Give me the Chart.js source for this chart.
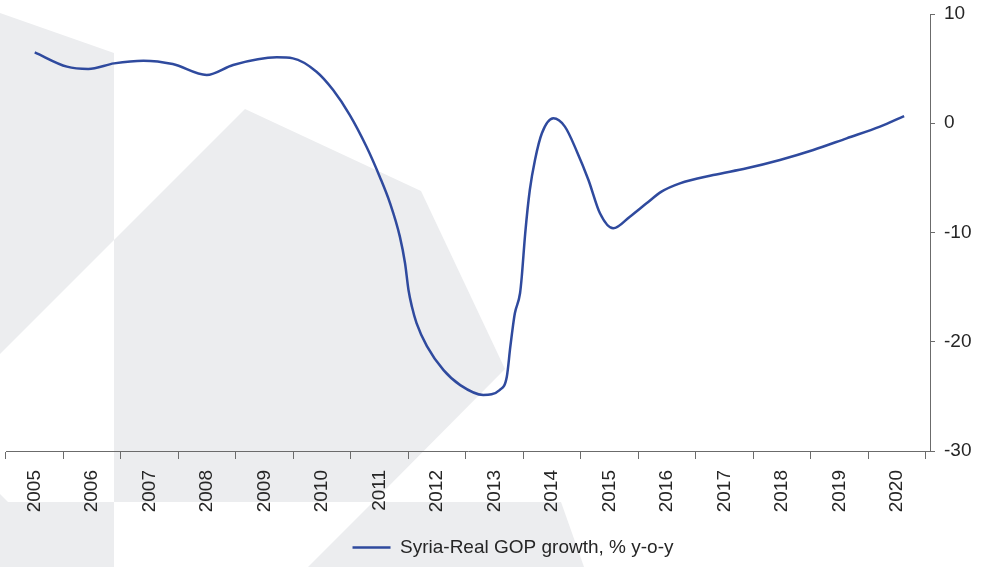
<!DOCTYPE html>
<html>
<head>
<meta charset="utf-8">
<script src="https://cdn.jsdelivr.net/npm/chart.js@4.4.1/dist/chart.umd.min.js"></script>
<style>
  html, body { margin: 0; padding: 0; background: #ffffff; }
  #wrap { position: relative; width: 990px; height: 567px; }
</style>
</head>
<body>
<div id="wrap"><canvas id="c"></canvas></div>
<script>
// ---- data ----
const seriesLabel = 'Syria-Real GOP growth, % y-o-y';
const tickYears = [2005, 2006, 2007, 2008, 2009, 2010, 2011, 2012, 2013, 2014, 2015, 2016, 2017, 2018, 2019, 2020];
const yTicks = [-30, -20, -10, 0, 10];
const years = [
  2005.00, 2005.56, 2005.93, 2006.38, 2006.89, 2007.40, 2007.99, 2008.45, 2009.21, 2009.49,
  2009.90, 2010.19, 2010.48, 2010.77, 2011.00, 2011.18, 2011.35, 2011.44, 2011.50, 2011.56,
  2011.64, 2011.82, 2012.11, 2012.40, 2012.80, 2013.09, 2013.21, 2013.27, 2013.30, 2013.35,
  2013.44, 2013.47, 2013.53, 2013.61, 2013.70, 2013.82, 2014.02, 2014.22, 2014.43, 2014.63,
  2014.83, 2015.06, 2015.35, 2015.64, 2015.90, 2016.22, 2016.80, 2017.38, 2017.96, 2018.54,
  2019.12, 2019.70, 2020.12
];
const growth = [
  6.49, 5.18, 4.97, 5.48, 5.73, 5.42, 4.42, 5.33, 6.03, 5.94,
  4.72, 3.04, 0.75, -2.15, -4.89, -7.33, -10.38, -12.82, -15.26, -16.80,
  -18.30, -20.40, -22.60, -23.97, -24.87, -24.40, -23.20, -20.50, -19.23, -17.40,
  -15.56, -14.05, -10.07, -6.11, -3.36, -0.92, 0.45, -0.31, -2.60, -5.19,
  -8.24, -9.62, -8.55, -7.33, -6.26, -5.50, -4.74, -4.12, -3.36, -2.45,
  -1.38, -0.31, 0.66
];

const FONT = '"Liberation Sans", Arial, Helvetica, sans-serif';
const AXIS = '#6b6b6b';
const TEXT = '#262626';
const LINE = '#2f4a9e';
const SHADE = '#ecedef';

// decorative watermark background
const backdrop = {
  id: 'backdrop',
  beforeDraw(chart) {
    const ctx = chart.ctx;
    ctx.save();
    ctx.fillStyle = '#ffffff';
    ctx.fillRect(0, 0, chart.width, chart.height);
    ctx.fillStyle = SHADE;
    const polys = [
      [[0, 13], [114, 53], [114, 240], [0, 354]],
      [[114, 240], [245, 109], [421, 191], [505, 369], [373, 502], [114, 502]],
      [[0, 494], [8, 502], [0, 502]],
      [[0, 502], [114, 502], [114, 567], [0, 567]],
      [[373, 502], [561, 502], [584, 567], [308, 567]]
    ];
    polys.forEach(p => {
      ctx.beginPath();
      ctx.moveTo(p[0][0], p[0][1]);
      for (let i = 1; i < p.length; i++) ctx.lineTo(p[i][0], p[i][1]);
      ctx.closePath();
      ctx.fill();
    });
    ctx.restore();
  }
};

const legendShift = {
  id: 'legendShift',
  afterLayout(chart) {
    if (chart.legend) { chart.legend.left += 15; chart.legend.right += 15; }
  }
};

new Chart(document.getElementById('c'), {
  type: 'line',
  data: {
    datasets: [{
      label: seriesLabel,
      data: years.map((x, i) => ({ x: x, y: growth[i] })),
      borderColor: LINE,
      backgroundColor: LINE,
      borderWidth: 2.5,
      pointRadius: 0,
      pointHoverRadius: 0,
      fill: false,
      cubicInterpolationMode: 'monotone'
    }]
  },
  plugins: [backdrop, legendShift],
  options: {
    responsive: true,
    maintainAspectRatio: false,
    animation: false,
    devicePixelRatio: 1,
    layout: { padding: { left: 6, top: 14, right: 0, bottom: 0 } },
    plugins: {
      tooltip: { enabled: false },
      legend: {
        display: true,
        position: 'bottom',
        labels: {
          usePointStyle: true,
          pointStyle: 'line',
          pointStyleWidth: 38,
          color: TEXT,
          font: { family: FONT, size: 19 },
          padding: 10
        }
      }
    },
    scales: {
      x: {
        type: 'linear',
        position: 'bottom',
        min: 2004.5,
        max: 2020.57,
        afterFit(s) { s.height = 77; s.paddingLeft = 0; s.paddingRight = 0; },
        afterBuildTicks(s) { s.ticks = tickYears.map(v => ({ value: v })); },
        grid: {
          offset: true,
          drawOnChartArea: false,
          drawTicks: true,
          tickLength: 8,
          color: AXIS,
          lineWidth: 1
        },
        border: { display: true, color: AXIS, width: 1 },
        ticks: {
          autoSkip: false,
          maxRotation: 90,
          minRotation: 90,
          padding: 11,
          color: TEXT,
          font: { family: FONT, size: 19 },
          callback: v => String(v)
        }
      },
      y: {
        type: 'linear',
        position: 'right',
        min: -30,
        max: 10,
        afterFit(s) { s.width = 60; s.paddingTop = 0; s.paddingBottom = 0; },
        afterBuildTicks(s) { s.ticks = yTicks.map(v => ({ value: v })); },
        grid: {
          drawOnChartArea: false,
          drawTicks: true,
          tickLength: 5,
          color: AXIS,
          lineWidth: 1
        },
        border: { display: true, color: AXIS, width: 1 },
        ticks: {
          padding: 9,
          color: TEXT,
          font: { family: FONT, size: 19 },
          callback: v => String(v)
        }
      }
    }
  }
});
</script>
</body>
</html>
